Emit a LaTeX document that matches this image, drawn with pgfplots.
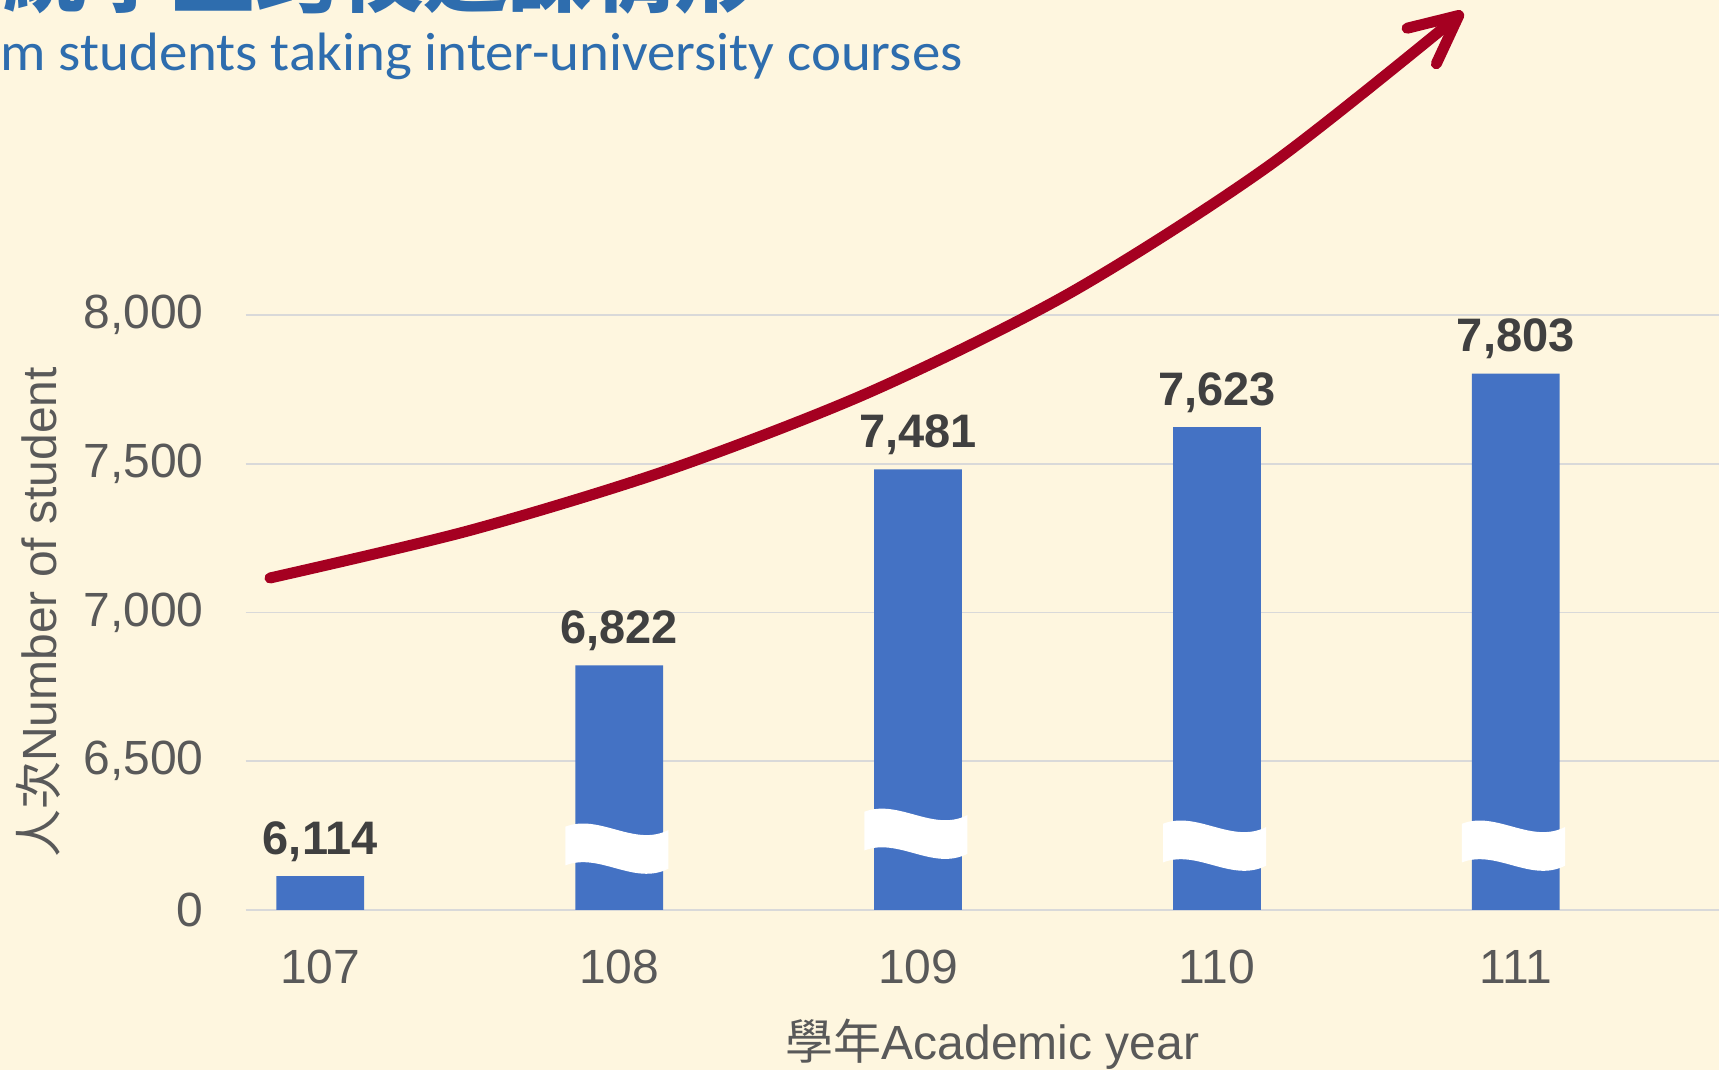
\documentclass[border=0pt]{standalone}
\usepackage{fontspec}
\usepackage{pgfplots}
\pgfplotsset{compat=1.18}
\usetikzlibrary{arrows.meta}
\setmainfont{Liberation Sans}
\newfontfamily\cjk{Noto Sans CJK TC}
\newfontfamily\subfont{Carlito}
\definecolor{bg}{HTML}{FEF6DF}
\definecolor{barblue}{HTML}{4472C4}
\definecolor{arrowred}{HTML}{A50021}
\definecolor{titleblue}{HTML}{2E6DAE}
\definecolor{tickgray}{HTML}{595959}
\definecolor{labgray}{HTML}{404040}
\definecolor{gridgray}{HTML}{D9D9D9}
\begin{document}
\begin{tikzpicture}[x=1pt,y=1pt]
\useasboundingbox (0,0) rectangle (859.5,535);
\clip (0,0) rectangle (859.5,535);
\fill[bg] (0,0) rectangle (859.5,535);
\node[anchor=base east, text=titleblue, font=\cjk\bfseries\fontsize{42}{42}\selectfont, inner sep=0pt] at (380,532) {系統學生跨校選課情形};
\node[anchor=base west, text=titleblue, font=\subfont\fontsize{27}{27}\selectfont, inner sep=0pt, xscale=1.053] at (0,499.5) {m students taking inter-university courses};
\begin{axis}[
  at={(122.8pt,80pt)}, anchor=south west,
  scale only axis, width=736.7pt, height=297.5pt,
  xmin=106.75, xmax=111.68, ymin=6000, ymax=8000,
  axis line style={draw=none},
  major tick length=0pt, tick style={draw=none},
  ymajorgrids, grid style={gridgray, line width=0.8pt},
  ytick={6000,6500,7000,7500,8000},
  yticklabels={{0},{6,500},{7,000},{7,500},{8,000}},
  xtick={107,108,109,110,111},
  /pgf/number format/assume math mode=true,
  ticklabel style={font=\fontsize{24}{24}\selectfont, text=tickgray},
  yticklabel style={anchor=east, inner sep=0pt, xshift=-20.8pt},
  xticklabel style={anchor=north, inner sep=0pt, yshift=-20pt},
  xticklabel={\pgfmathprintnumber[1000 sep={}]{\tick}},
  ylabel={{\cjk 人次}Number of student},
  xlabel={{\cjk 學年}Academic year},
  label style={font=\fontsize{24}{24}\selectfont, text=tickgray},
  ylabel style={at={(axis description cs:-0.141,0.5)}, anchor=center},
  xlabel style={at={(axis description cs:0.507,-0.225)}, anchor=center},
  ybar, bar width=43.85pt,
  nodes near coords,
  nodes near coords style={font=\bfseries\fontsize{23.5}{23.5}\selectfont, text=labgray, yshift=3.8pt},
]
\addplot[fill=barblue, draw=none] coordinates {(107,6114) (108,6822) (109,7481) (110,7623) (111,7803)};
\fill[white] (axis cs:107.82,6280) .. controls (axis cs:107.935,6325) and (axis cs:108.05,6210) .. (axis cs:108.165,6269) -- (axis cs:108.165,6139) .. controls (axis cs:108.05,6080) and (axis cs:107.935,6195) .. (axis cs:107.82,6150) -- cycle;
\fill[white] (axis cs:108.82,6330) .. controls (axis cs:108.935,6375) and (axis cs:109.05,6260) .. (axis cs:109.165,6319) -- (axis cs:109.165,6189) .. controls (axis cs:109.05,6130) and (axis cs:108.935,6245) .. (axis cs:108.82,6200) -- cycle;
\fill[white] (axis cs:109.82,6290) .. controls (axis cs:109.935,6335) and (axis cs:110.05,6220) .. (axis cs:110.165,6279) -- (axis cs:110.165,6149) .. controls (axis cs:110.05,6090) and (axis cs:109.935,6205) .. (axis cs:109.82,6160) -- cycle;
\fill[white] (axis cs:110.82,6290) .. controls (axis cs:110.935,6335) and (axis cs:111.05,6220) .. (axis cs:111.165,6279) -- (axis cs:111.165,6149) .. controls (axis cs:111.05,6090) and (axis cs:110.935,6205) .. (axis cs:110.82,6160) -- cycle;
\end{axis}
\draw[arrowred, line width=5.5pt, line cap=round, -{Straight Barb[length=24pt, width=23pt, round]}] plot[smooth, tension=0.5] coordinates {(135,246) (235,269.8) (335,300.3) (435,339) (535,388.5) (635,452.5) (731.5,529)};
\end{tikzpicture}
\end{document}
